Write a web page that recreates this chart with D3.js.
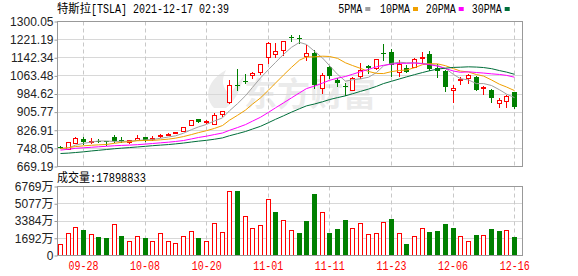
<!DOCTYPE html>
<html><head><meta charset="utf-8">
<script src="https://cdn.jsdelivr.net/npm/d3@7"></script>
<style>body{margin:0;background:#fff}svg{display:block}</style>
</head><body>
<svg id="c" width="578" height="276"></svg>
<script>
const dates = ["09-23","09-24","09-27","09-28","09-29","09-30","10-01","10-04","10-05","10-06","10-07","10-08","10-11","10-12","10-13","10-14","10-15","10-18","10-19","10-20","10-21","10-22","10-25","10-26","10-27","10-28","10-29","11-01","11-02","11-03","11-04","11-05","11-08","11-09","11-10","11-11","11-12","11-15","11-16","11-17","11-18","11-19","11-22","11-23","11-24","11-26","11-29","11-30","12-01","12-02","12-03","12-06","12-07","12-08","12-09","12-10","12-13","12-14","12-15","12-16"];
const open = [755.00,745.89,773.12,787.20,779.08,781.00,778.40,796.50,784.80,776.20,785.46,796.21,787.65,800.93,810.47,815.49,823.74,851.77,877.53,865.35,856.00,895.50,950.53,1024.69,1039.66,1068.31,1081.86,1145.00,1159.36,1177.33,1234.41,1228.00,1149.79,1163.20,1010.41,1102.77,1047.50,1017.63,1003.31,1063.51,1106.55,1098.87,1162.33,1167.51,1080.39,1099.47,1100.99,1144.37,1160.70,1099.06,1084.79,1001.51,1044.20,1052.71,1060.64,1008.75,1001.09,945.00,953.21,994.50];
const high = [758.20,774.80,799.00,795.64,793.50,789.13,780.78,806.97,797.31,786.66,805.00,796.38,801.24,812.32,815.41,820.25,843.21,870.40,877.95,869.49,900.00,910.00,1045.02,1094.94,1070.88,1081.00,1115.21,1209.75,1208.59,1215.39,1243.49,1239.87,1197.00,1174.50,1078.10,1104.97,1054.50,1031.98,1057.20,1119.64,1112.00,1138.72,1201.95,1180.50,1132.77,1108.78,1142.67,1168.00,1172.84,1113.00,1090.58,1021.64,1057.67,1072.38,1062.49,1020.98,1005.00,966.41,978.75,994.98];
const low = [747.92,744.56,769.31,766.18,770.68,775.00,763.59,776.12,774.20,773.22,783.38,780.91,785.50,796.57,805.78,813.35,822.35,851.47,862.51,857.38,855.50,890.96,944.20,1001.44,1030.78,1054.20,1073.21,1118.66,1146.00,1152.62,1217.00,1208.00,1133.00,1011.52,987.31,1054.68,1019.20,978.60,1002.18,1055.50,1075.02,1092.70,1132.43,1062.70,1062.00,1081.00,1100.19,1118.00,1090.76,1056.65,998.07,950.50,1026.81,1033.00,1002.36,982.53,951.42,930.00,928.25,921.85];
const close = [753.64,774.39,791.36,777.56,781.31,775.48,775.22,781.53,780.59,782.75,793.61,785.49,791.94,805.72,811.08,818.32,843.03,870.11,864.27,865.80,894.00,909.68,1024.86,1018.43,1037.86,1077.04,1114.00,1208.59,1172.00,1213.86,1229.91,1222.09,1162.94,1023.50,1067.95,1063.51,1033.42,1013.39,1054.73,1089.01,1096.38,1137.06,1156.87,1109.03,1116.00,1081.92,1136.99,1144.76,1095.00,1084.60,1014.97,1009.01,1051.75,1068.96,1003.80,1017.03,966.41,958.51,975.99,926.92];
const prevClose0 = 751.94;
const volume = [11600000,21900000,28070000,25380000,20940000,17960000,17030000,30480000,18780000,14630000,18900000,16710000,14200000,22020000,14120000,12000000,18700000,24210000,17100000,14030000,31480000,22880000,62800000,63300000,38530000,27210000,29920000,55600000,42900000,34630000,25400000,21630000,33450000,60300000,42800000,22400000,25570000,34780000,26540000,31470000,20900000,21900000,33070000,36170000,22560000,11680000,19460000,27090000,22820000,24370000,30770000,27220000,18690000,13970000,19810000,19890000,26130000,23600000,24680000,17898833];
const ma5 = [746.92,749.90,762.14,769.78,775.65,780.02,780.19,778.22,778.83,779.11,782.74,784.79,786.88,791.90,797.57,802.51,814.02,829.65,841.36,852.31,867.44,880.77,911.72,942.55,976.97,1013.57,1054.44,1091.18,1121.90,1157.10,1187.67,1209.29,1200.16,1170.46,1141.28,1108.00,1070.26,1040.35,1046.60,1050.81,1057.39,1078.11,1106.81,1117.67,1123.07,1120.18,1120.16,1117.74,1114.93,1108.65,1095.26,1069.67,1051.07,1045.86,1029.70,1030.11,1021.59,1002.94,984.35,968.97];
const ma10 = [747.12,750.93,755.77,759.08,761.62,763.47,765.05,770.18,774.30,777.38,781.38,782.49,782.55,785.36,788.34,792.63,799.41,808.26,816.63,824.94,834.98,847.40,870.69,891.96,914.64,940.51,967.61,1001.45,1032.23,1067.03,1100.62,1131.86,1145.67,1146.18,1149.19,1147.84,1139.78,1120.26,1108.53,1096.05,1082.69,1074.19,1073.58,1082.14,1086.94,1088.78,1099.14,1112.28,1116.30,1115.86,1107.72,1094.92,1084.40,1080.40,1069.18,1062.69,1045.63,1027.00,1015.10,999.34];
const ma20 = [740.63,744.29,748.26,750.60,752.88,754.95,757.09,759.49,760.87,762.31,764.25,766.71,769.16,772.22,774.98,778.05,782.23,789.22,795.47,801.16,808.18,814.94,826.62,838.66,851.49,866.57,883.51,904.86,924.43,945.98,967.80,989.63,1008.18,1019.07,1031.91,1044.17,1053.69,1060.86,1070.38,1081.54,1091.66,1103.03,1109.63,1114.16,1118.06,1118.31,1119.46,1116.27,1112.42,1105.95,1095.21,1084.55,1078.99,1081.27,1078.06,1075.73,1072.38,1069.64,1065.70,1057.60];
const ma30 = [725.75,727.49,729.97,733.01,736.86,739.75,743.14,746.52,748.99,751.47,754.21,757.02,759.69,762.19,764.70,767.51,771.19,775.74,779.46,783.19,787.83,793.61,803.00,812.13,821.53,832.20,844.02,859.97,874.39,889.78,905.66,920.58,932.97,941.17,950.72,960.32,968.93,976.66,985.80,996.00,1006.10,1017.82,1029.98,1040.09,1050.25,1059.04,1068.84,1078.00,1085.69,1092.98,1097.01,1100.32,1101.22,1102.90,1101.77,1099.77,1094.85,1086.51,1079.98,1070.41];
const priceTicks = [669.19,748.05,826.91,905.77,984.62,1063.48,1142.34,1221.19,1300.05];
const volTicks = [0,16920000,33840000,50770000,67690000];
const xTicks = ["09-28","10-08","10-20","11-01","11-11","11-23","12-06","12-16"];
const maNames = ["5PMA","10PMA","20PMA","30PMA"];
const maColors = ["#a0a0a0","#f0a000","#ff00ff","#006e3a"];
const titleName = "特斯拉", titleRest = "[TSLA] 2021-12-17 02:39";
const volTitle = "成交量", volValue = ":17898833";

const RED = "#ff0000", GREEN = "#008000";
const L = 57.5, R = 522.5, PT = 21.5, PB = 166.5, VT = 186.5, VB = 255.5;
const svg = d3.select("#c");
svg.append("rect").attr("width",578).attr("height",276).attr("fill","#fff");

const x = d3.scaleBand().domain(dates).range([56.5, 518.5]);
const cxi = i => Math.floor(x(dates[i]) + x.bandwidth()/2);
const y = d3.scaleLinear().domain([669.19, 1300.05]).range([PB, PT]);
const yv = d3.scaleLinear().domain([0, 67690000]).range([VB, VT]);
const idx = d3.range(dates.length);

// watermark (logo swoosh + text)
const wm = svg.append("g").attr("fill","#ebebeb");
wm.append("path").attr("d","M214,108 C203,96 208,80 226,70 C221,80 222,88 230,94 C236,86 240,80 244,76 C240,90 236,100 226,108 Z");
wm.append("text").attr("x",244).attr("y",106).attr("font-family","Noto Sans CJK SC")
  .attr("font-size",33).attr("font-weight","bold").text("东方财富");

// gridlines
const gp = svg.append("g");
priceTicks.forEach(v => {
  const yy = Math.round(y(v) - 0.5) + 0.5;
  gp.append("line").attr("x1",L).attr("x2",R).attr("y1",yy).attr("y2",yy).attr("stroke","#d8d8d8");
});
volTicks.forEach(v => {
  const yy = Math.round(yv(v) - 0.5) + 0.5;
  gp.append("line").attr("x1",L).attr("x2",R).attr("y1",yy).attr("y2",yy).attr("stroke","#d8d8d8");
});
xTicks.forEach(d => {
  const xx = Math.floor(x(d) + x.bandwidth()/2) + 0.5;
  [[PT,PB],[VT,VB]].forEach(([a,b]) => {
    gp.append("line").attr("x1",xx).attr("x2",xx).attr("y1",a).attr("y2",b)
      .attr("stroke","#c8c8c8").attr("stroke-dasharray","4,3");
  });
});

// candles
const gc = svg.append("g");
idx.forEach(i => {
  const c = cxi(i);
  const up = close[i] >= open[i];
  const col = up ? RED : GREEN;
  gc.append("line").attr("x1",c+0.5).attr("x2",c+0.5)
    .attr("y1",Math.round(y(high[i]))).attr("y2",Math.round(y(low[i]))+1).attr("stroke",col);
  const yt = Math.round(y(Math.max(open[i],close[i])));
  const yb = Math.round(y(Math.min(open[i],close[i])));
  if (up) {
    gc.append("rect").attr("x",c-1.5).attr("y",yt+0.5).attr("width",4).attr("height",Math.max(yb-yt,1))
      .attr("fill","#fff").attr("stroke",RED);
  } else {
    gc.append("rect").attr("x",c-2).attr("y",yt).attr("width",5).attr("height",Math.max(yb-yt,1))
      .attr("fill",GREEN);
  }
});

// MA lines
[ma5,ma10,ma20,ma30].forEach((arr,k) => {
  const line = d3.line().x((d,i) => cxi(i)+0.5).y(d => y(d));
  svg.append("path").attr("d", line(arr)).attr("fill","none").attr("stroke",maColors[k]).attr("stroke-width",1);
});

// volume bars
const gv = svg.append("g");
idx.forEach(i => {
  const c = cxi(i);
  const pc = i === 0 ? prevClose0 : close[i-1];
  const up = close[i] >= pc;
  const yt = Math.round(yv(volume[i]));
  const yb = Math.round(yv(0));
  if (up) {
    gv.append("rect").attr("x",c-1.5).attr("y",yt+0.5).attr("width",4).attr("height",yb-yt-1)
      .attr("fill","#fff").attr("stroke",RED);
  } else {
    gv.append("rect").attr("x",c-2).attr("y",yt).attr("width",5).attr("height",yb-yt).attr("fill",GREEN);
  }
});

// borders
[[PT,PB],[VT,VB]].forEach(([a,b]) => {
  svg.append("rect").attr("x",L).attr("y",a).attr("width",R-L).attr("height",b-a)
    .attr("fill","none").attr("stroke","#999");
});

// axes
const styleAxis = g => {
  g.select(".domain").remove();
  g.selectAll(".tick line").attr("stroke","#999");
  g.selectAll(".tick text").attr("fill","#222").attr("font-family","Liberation Sans, Arial, sans-serif").attr("font-size",12);
};
svg.append("g").attr("transform",`translate(${L},0)`)
  .call(d3.axisLeft(y).tickValues(priceTicks).tickSize(3).tickPadding(1).tickFormat(d => d.toFixed(2)))
  .call(styleAxis);
svg.append("g").attr("transform",`translate(${L},0)`)
  .call(d3.axisLeft(yv).tickValues(volTicks).tickSize(3).tickPadding(1)
    .tickFormat(d => d === 0 ? "0" : Math.round(d/1e4) + "万"))
  .call(styleAxis)
  .call(g => g.selectAll(".tick text").attr("font-family","Liberation Sans, Noto Sans CJK SC, sans-serif"));
svg.append("g").attr("transform",`translate(0,${VB})`)
  .call(d3.axisBottom(x).tickValues(xTicks).tickSize(0).tickPadding(6))
  .call(g => {
    g.select(".domain").remove();
    g.selectAll(".tick text").attr("fill",RED).attr("font-family","Liberation Mono, monospace")
      .attr("font-size",12).attr("textLength",30).attr("lengthAdjust","spacingAndGlyphs");
  });

// title
svg.append("text").attr("x",57).attr("y",13).attr("font-family","Noto Sans CJK SC").attr("font-size",12)
  .attr("textLength",34).attr("lengthAdjust","spacingAndGlyphs").attr("fill","#000").text(titleName);
svg.append("text").attr("x",91).attr("y",13).attr("font-family","Liberation Mono, monospace").attr("font-size",12)
  .attr("textLength",138).attr("lengthAdjust","spacingAndGlyphs").attr("fill","#000").text(titleRest);

// legend
const legX = [338.3, 380, 425.7, 471.7];
maNames.forEach((n,k) => {
  svg.append("text").attr("x",legX[k]).attr("y",13).attr("font-family","Liberation Mono, monospace").attr("font-size",12)
    .attr("textLength",n.length*6).attr("lengthAdjust","spacingAndGlyphs").attr("fill","#000").text(n);
  svg.append("rect").attr("x",legX[k]+n.length*6+3).attr("y",7).attr("width",5).attr("height",4).attr("fill",maColors[k]);
});

// volume title
svg.append("text").attr("x",57).attr("y",182).attr("font-family","Noto Sans CJK SC").attr("font-size",12)
  .attr("textLength",33).attr("lengthAdjust","spacingAndGlyphs").attr("fill","#000").text(volTitle);
svg.append("text").attr("x",90).attr("y",182).attr("font-family","Liberation Mono, monospace").attr("font-size",12)
  .attr("textLength",56).attr("lengthAdjust","spacingAndGlyphs").attr("fill","#000").text(volValue);
</script>
</body></html>
